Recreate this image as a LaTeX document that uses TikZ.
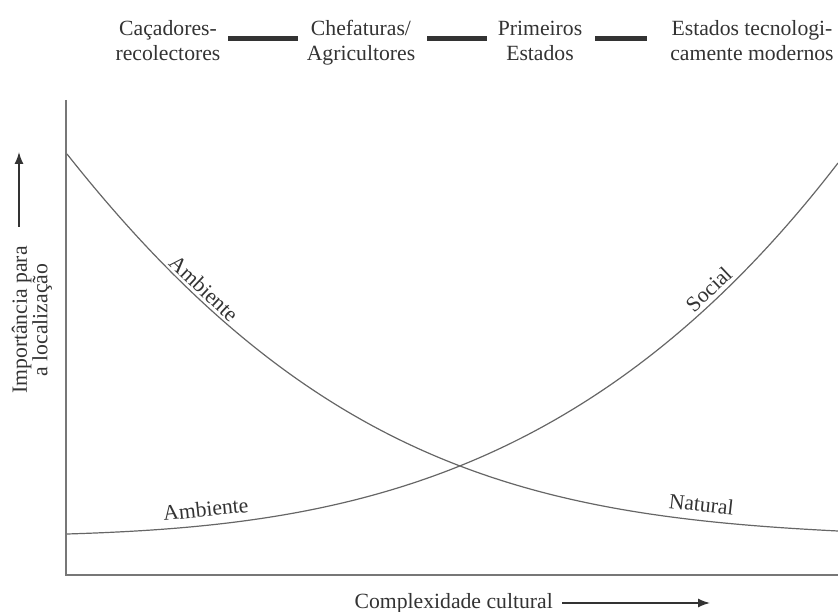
\documentclass[tikz,border=0pt]{standalone}
\usepackage{fontspec}
\setmainfont{Liberation Serif}
\usetikzlibrary{arrows.meta}
\definecolor{ink}{HTML}{333333}
\definecolor{curvegray}{HTML}{666666}
\definecolor{axisgray}{HTML}{777777}
\definecolor{bargray}{HTML}{333333}
\tikzset{
  lbl/.style={text=ink, font=\fontsize{21.7}{25}\selectfont, inner sep=0pt, align=center},
  curvelbl/.style={text=ink, font=\fontsize{21.7}{25}\selectfont, inner sep=0pt, sloped},
  curveline/.style={draw=curvegray, line width=1.2pt},
  axisline/.style={draw=axisgray, line width=1.4pt},
  stagebar/.style={draw=bargray, line width=5pt},
  axarrow/.style={draw=ink, line width=1.5pt, -{Latex[length=12pt,width=9pt]}}
}
\begin{document}
\begin{tikzpicture}[x=1pt,y=-1pt]
\useasboundingbox (0,0) rectangle (838,612);
% stage labels
\node[lbl, anchor=base] (s1) at (168,61) {Caçadores-\\recolectores};
\node[lbl, anchor=base] (s2) at (361,61) {Chefaturas/\\Agricultores};
\node[lbl, anchor=base] (s3) at (540,61) {Primeiros\\Estados};
\node[lbl, anchor=base] (s4) at (752,61) {Estados tecnologi-\\camente modernos};
\coordinate (b1a) at (228,39); \coordinate (b1b) at (298,39);
\coordinate (b2a) at (427,39); \coordinate (b2b) at (487,39);
\coordinate (b3a) at (595,39); \coordinate (b3b) at (647,39);
\draw[stagebar] (b1a) -- (b1b);
\draw[stagebar] (b2a) -- (b2b);
\draw[stagebar] (b3a) -- (b3b);
% axes
\coordinate (ytop) at (66,100);
\coordinate (origin) at (66,575);
\coordinate (xend) at (838,575);
\draw[axisline] (ytop) -- (origin) -- (xend);
% curves
\coordinate (d0) at (67,154); \coordinate (d1) at (838,531);
\coordinate (u0) at (67,534); \coordinate (u1) at (838,163);
\draw[curveline] (d0) .. controls (317,470) and (538,516) .. (d1)
  node[curvelbl, pos=0.175, above=3pt] (lamb1) {Ambiente}
  node[curvelbl, pos=0.84, above=8pt] (lnat) {Natural};
\draw[curveline] (u0) .. controls (327,526) and (588,488) .. (u1)
  node[curvelbl, pos=0.18, above=8pt] (lamb2) {Ambiente}
  node[curvelbl, pos=0.84, above=4pt] (lsoc) {Social};
% y label
\node[lbl, rotate=90, font=\fontsize{21.7}{20.5}\selectfont] (ylab) at (32,320) {Importância para\\a localização};
\coordinate (yarr0) at (19,227); \coordinate (yarr1) at (19,152);
\draw[axarrow] (yarr0) -- (yarr1);
% x label
\node[lbl, anchor=base east] (xlab) at (553,608) {Complexidade cultural};
\coordinate (xarr0) at (562,603); \coordinate (xarr1) at (710,603);
\draw[axarrow] (xarr0) -- (xarr1);
\end{tikzpicture}
\end{document}
